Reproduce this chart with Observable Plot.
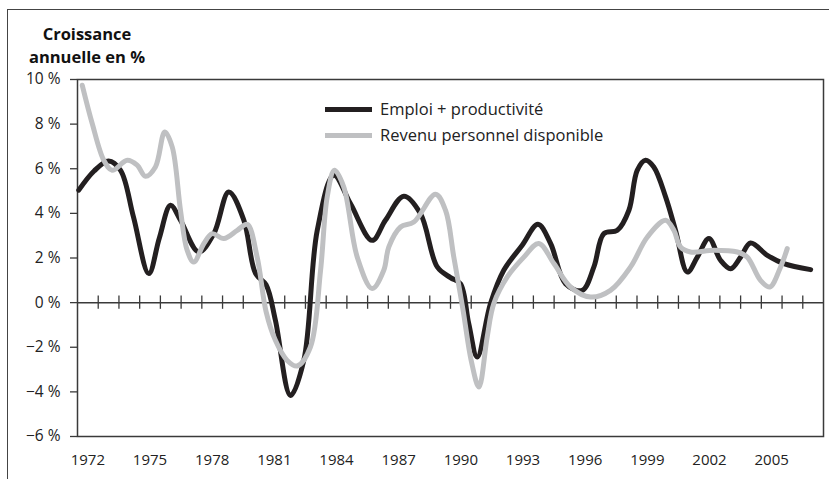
<!DOCTYPE html>
<html><head><meta charset="utf-8">
<script src="https://cdn.jsdelivr.net/npm/d3@7"></script>
<script src="https://cdn.jsdelivr.net/npm/@observablehq/plot@0.6"></script>
<style>
body{margin:0;background:#fff;font-family:"Open Sans",sans-serif;}
#wrap{position:relative;width:829px;height:479px;overflow:hidden;}
#outer{position:absolute;left:7px;top:9px;width:900px;height:600px;border-top:1.5px solid #444;border-left:1.5px solid #444;}
#title{position:absolute;left:12px;top:22px;width:150px;text-align:center;font-weight:bold;font-size:16.5px;line-height:23px;color:#111;}
.leg{position:absolute;left:325px;font-size:16.5px;line-height:20px;color:#222;white-space:nowrap;}
.sw{display:inline-block;width:47px;height:5px;vertical-align:middle;margin-right:8px;position:relative;top:-1px;}
#chart{position:absolute;left:0;top:0;}
</style></head>
<body>
<div id="wrap">
<div id="outer"></div>
<div id="chart"></div>
<div id="title">Croissance<br>annuelle en %</div>
<div class="leg" style="top:99px"><span class="sw" style="background:#231f20"></span>Emploi + productivité</div>
<div class="leg" style="top:125px"><span class="sw" style="background:#bfc0c2"></span>Revenu personnel disponible</div>
</div>
<script>
// Emploi + productivité (black)
const emploiYear = [1972.06,1972.8,1973.5,1974.08,1974.7,1975.44,1975.95,1976.49,1976.97,1977.85,1978.58,1979.30,1980.03,1980.59,1981.1,1981.55,1982.28,1982.92,1983.57,1984.37,1985.17,1986.22,1986.86,1987.75,1988.55,1989.36,1990.0,1990.48,1990.88,1991.29,1991.93,1992.57,1993.46,1994.22,1994.83,1995.55,1996.36,1996.92,1997.40,1998.05,1998.61,1999.01,1999.41,1999.81,2000.38,2000.86,2001.43,2001.91,2002.47,2003.03,2003.52,2004.0,2004.48,2005.29,2006.09,2007.38];
const emploiVal  = [5.04,5.9,6.35,5.93,3.84,1.30,2.9,4.36,3.69,2.27,3.09,4.96,3.69,1.31,0.8,-0.79,-4.16,-2.59,3.24,5.71,4.44,2.79,3.69,4.77,3.99,1.60,1.12,0.85,-0.94,-2.44,-0.04,1.45,2.57,3.51,2.65,0.85,0.55,1.60,3.09,3.24,4.14,5.93,6.38,6.08,4.74,3.24,1.37,2.04,2.87,1.90,1.52,2.04,2.67,2.12,1.75,1.48];
// Revenu personnel disponible (gray)
const revenuYear = [1972.23,1972.71,1973.27,1973.67,1974.40,1974.88,1975.28,1975.76,1976.21,1976.57,1976.97,1977.29,1977.61,1978.10,1978.50,1979.06,1979.71,1980.19,1980.67,1981.1,1981.55,1982.12,1982.60,1983.24,1983.73,1984.05,1984.40,1984.85,1985.50,1986.22,1986.78,1987.02,1987.59,1988.23,1989.28,1989.76,1990.16,1990.6,1991.0,1991.37,1991.77,1992.09,1992.74,1993.54,1994.26,1994.99,1995.79,1996.76,1997.72,1998.69,1999.50,2000.38,2000.78,2001.10,2001.58,2002.71,2003.84,2004.32,2004.96,2005.41,2005.93,2006.25];
const revenuVal  = [9.74,8.03,6.38,5.93,6.38,6.16,5.66,6.08,7.65,6.98,4.14,2.35,1.82,2.65,3.09,2.87,3.24,3.51,2.04,-0.4,-1.69,-2.59,-2.84,-1.99,1.45,4.74,5.93,5.18,2.04,0.63,1.45,2.49,3.39,3.61,4.86,4.14,2.04,-0.3,-2.6,-3.78,-1.54,-0.04,1.15,2.04,2.65,1.75,0.70,0.25,0.55,1.60,2.94,3.69,3.24,2.49,2.27,2.35,2.27,2.04,1.00,0.70,1.60,2.42];
const yTicks = [-6,-4,-2,0,2,4,6,8,10];
const labelYears = [1972,1975,1978,1981,1984,1987,1990,1993,1996,1999,2002,2005];
const tickYears = d3.range(1973, 2008);

const emploi = emploiYear.map((x,i)=>({year:x, value:emploiVal[i]}));
const revenu = revenuYear.map((x,i)=>({year:x, value:revenuVal[i]}));
const ink = "#3a3a3a";

const chart = Plot.plot({
  width: 829, height: 479,
  marginLeft: 77, marginRight: 6, marginTop: 79, marginBottom: 43,
  x: {domain: [1972, 2008]},
  y: {domain: [-6, 10]},
  style: {fontFamily: "Open Sans", fontSize: "15px", color: "#222", background: "transparent", overflow: "visible"},
  marks: [
    Plot.frame({stroke: ink, strokeWidth: 1.5}),
    Plot.ruleY([0], {stroke: ink, strokeWidth: 1.5}),
    Plot.ruleX(tickYears, {y1: -0.3, y2: 0.3, stroke: ink, strokeWidth: 1.3}),
    Plot.axisY({ticks: yTicks, tickSize: 7, tickPadding: 10, label: null, stroke: ink, strokeWidth: 1.3,
      fontSize: 15.5, tickFormat: d => (d < 0 ? "\u2212" : "") + Math.abs(d) + " %"}),
    Plot.axisX({ticks: labelYears.map(y => y + 0.5), tickSize: 0, tickPadding: 18, label: null,
      fontSize: 15, tickFormat: d => String(Math.floor(d))}),
    Plot.line(emploi, {x: "year", y: "value", stroke: "#231f20", strokeWidth: 5, curve: "catmull-rom"}),
    Plot.line(revenu, {x: "year", y: "value", stroke: "#bfc0c2", strokeWidth: 5, curve: "catmull-rom"})
  ]
});
document.getElementById("chart").append(chart);
</script>
</body></html>
